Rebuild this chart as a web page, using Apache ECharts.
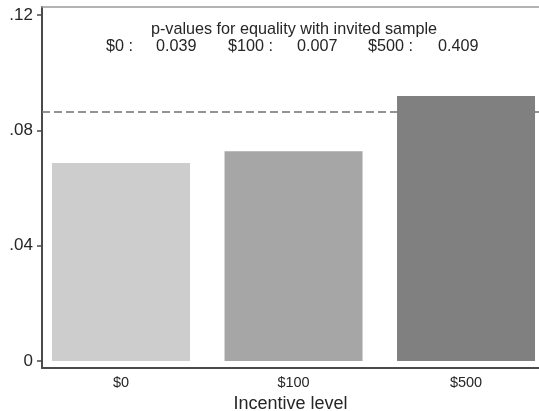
<!DOCTYPE html>
<html>
<head>
<meta charset="utf-8">
<script src="https://cdn.jsdelivr.net/npm/echarts@6/dist/echarts.min.js"></script>
<style>html,body{margin:0;padding:0;background:#fff}#c{width:539px;height:411px}</style>
</head>
<body>
<div id="c"></div>
<script>
// ---- data ----
const categories = ['$0', '$100', '$500'];
const positions = [1, 2, 3];
const rates = [0.0687, 0.0728, 0.0919];
const invitedRate = 0.0864;
const pLabels = ['$0 :', '$100 :', '$500 :'];
const pValues = ['0.039', '0.007', '0.409'];
const yTickValues = [0, 0.04, 0.08, 0.12];
const yTickLabels = ['0', '.04', '.08', '.12'];
const titleText = 'p-values for equality with invited sample';
const xTitle = 'Incentive level';

// ---- styles ----
const barColors = ['#cdcdcd', '#a6a6a6', '#808080'];
const FONT = '"Liberation Sans", Arial, sans-serif';
const TXT = '#262626';

const chart = echarts.init(document.getElementById('c'), null, {renderer: 'canvas'});

const g = [];
g.push({type: 'text', x: 294, y: 30, style: {text: titleText, font: '16.2px ' + FONT, fill: TXT, align: 'center', verticalAlign: 'middle'}});
const labelRight = [133, 273, 413];
const valueLeft = [156, 297, 438];
pLabels.forEach((t, i) => {
  g.push({type: 'text', x: labelRight[i], y: 47, style: {text: t, font: '16.2px ' + FONT, fill: TXT, align: 'right', verticalAlign: 'middle'}});
  g.push({type: 'text', x: valueLeft[i], y: 47, style: {text: pValues[i], font: '16.2px ' + FONT, fill: TXT, align: 'left', verticalAlign: 'middle'}});
});

const xMin = 0.542, xMax = 3.423;

chart.setOption({
  animation: false,
  backgroundColor: '#fff',
  textStyle: {fontFamily: FONT},
  grid: {left: 42, right: 0, top: 7, bottom: 43, containLabel: false, outerBoundsMode: 'none'},
  xAxis: [{
    type: 'value', min: xMin, max: xMax, position: 'bottom',
    splitLine: {show: false},
    axisLine: {show: true, onZero: false, lineStyle: {color: '#4a4a4a', width: 2}},
    axisTick: {show: false},
    axisLabel: {
      customValues: positions, margin: 7, fontSize: 14.5, color: TXT, fontFamily: FONT,
      formatter: v => categories[Math.round(v) - 1] || ''
    },
    name: xTitle, nameLocation: 'middle', nameGap: 22,
    nameTextStyle: {fontSize: 18, color: TXT, fontFamily: FONT}
  }, {
    type: 'value', min: xMin, max: xMax, position: 'top',
    splitLine: {show: false},
    axisLine: {show: true, onZero: false, lineStyle: {color: '#9a9a9a', width: 1.5}},
    axisTick: {show: false}, axisLabel: {show: false}
  }],
  yAxis: {
    type: 'value', min: -0.00243, max: 0.1228,
    splitLine: {show: false},
    axisLine: {show: true, onZero: false, lineStyle: {color: '#4a4a4a', width: 2}},
    axisTick: {show: true, customValues: yTickValues, length: 5, lineStyle: {color: '#4a4a4a', width: 1.5}},
    axisLabel: {
      customValues: yTickValues, margin: 9, fontSize: 17, color: TXT, fontFamily: FONT,
      formatter: v => {
        const i = yTickValues.findIndex(t => Math.abs(t - v) < 1e-9);
        return i >= 0 ? yTickLabels[i] : '';
      }
    }
  },
  series: [{
    type: 'line', xAxisIndex: 0, z: 1, silent: true, symbol: 'none',
    lineStyle: {color: '#707070', width: 1.5, type: [8, 4]},
    data: [[xMin, invitedRate], [xMax, invitedRate]]
  }, {
    type: 'bar', xAxisIndex: 0, z: 2, barWidth: 138,
    data: rates.map((r, i) => ({value: [positions[i], r], itemStyle: {color: barColors[i]}}))
  }],
  graphic: g
});
</script>
</body>
</html>
